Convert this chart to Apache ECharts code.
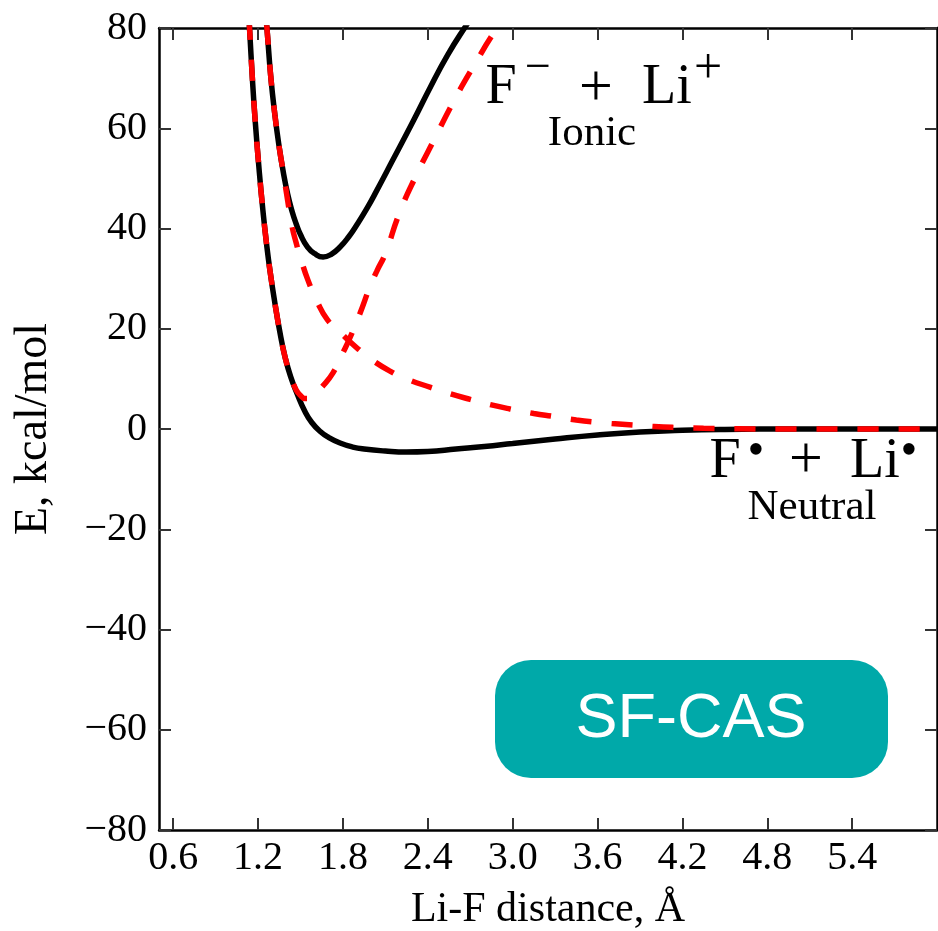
<!DOCTYPE html>
<html>
<head>
<meta charset="utf-8">
<script src="https://cdn.jsdelivr.net/npm/echarts@6/dist/echarts.min.js"></script>
<style>
html,body{margin:0;padding:0;background:#fff;}
#chart{width:938px;height:931px;}
</style>
</head>
<body>
<div id="chart"></div>
<script>
// ---- data (Li-F distance in Å, energy in kcal/mol) ----
const xTickValues = [0.6, 1.2, 1.8, 2.4, 3.0, 3.6, 4.2, 4.8, 5.4];

// black solid: adiabatic ground (neutral asymptote)
const groundX = [1.12, 1.14, 1.16, 1.18, 1.21, 1.235, 1.26, 1.285, 1.32, 1.36, 1.39, 1.43, 1.48, 1.53, 1.58, 1.64, 1.70, 1.78, 1.87, 1.95, 2.1, 2.25, 2.4, 2.6, 2.8, 3.0, 3.3, 3.6, 3.9, 4.2, 4.5, 5.0, 5.5, 6.0];
const groundE = [90, 80, 70, 61.5, 51, 43.5, 37, 31.5, 25, 18.5, 14.5, 10.5, 6.8, 3.6, 1.3, -0.5, -1.7, -2.8, -3.6, -4.0, -4.4, -4.6, -4.5, -4.0, -3.5, -2.9, -2.0, -1.2, -0.6, -0.25, -0.08, 0, 0, 0];

// black solid: adiabatic excited (ionic asymptote)
const excitedX = [1.235, 1.263, 1.29, 1.32, 1.35, 1.377, 1.41, 1.44, 1.47, 1.50, 1.55, 1.60, 1.66, 1.72, 1.78, 1.84, 1.90, 1.97, 2.04, 2.15, 2.30, 2.42, 2.54, 2.66, 2.78];
const excitedE = [89, 80, 70.3, 62.5, 56.2, 51.5, 46.8, 43.5, 40.9, 38.8, 36.3, 35, 34.3, 34.9, 36.3, 38.3, 40.8, 44, 47.6, 53.5, 61.6, 68.3, 74.6, 80, 85];

// red dashed: diabatic curve rising to the ionic limit
const diabAX = [1.12, 1.14, 1.16, 1.18, 1.21, 1.235, 1.26, 1.285, 1.32, 1.36, 1.39, 1.43, 1.47, 1.50, 1.53, 1.56, 1.60, 1.65, 1.73, 1.80, 1.85, 1.92, 1.99, 2.04, 2.10, 2.20, 2.32, 2.45, 2.58, 2.72, 2.89, 3.0];
const diabAE = [90, 80, 70, 61.5, 51, 43.5, 37, 31.5, 25, 18.5, 14.5, 10.5, 7.8, 6.7, 6.1, 6.1, 6.8, 8.3, 11.2, 15.2, 18.2, 23.0, 28.3, 31.5, 35, 43.1, 50.7, 58, 65.2, 72.2, 80, 84];

// red dashed: diabatic curve decaying to zero
const diabBX = [1.235, 1.263, 1.29, 1.32, 1.35, 1.377, 1.41, 1.44, 1.47, 1.50, 1.553, 1.62, 1.69, 1.77, 1.85, 1.92, 2.0, 2.13, 2.25, 2.42, 2.55, 2.70, 2.85, 2.98, 3.15, 3.29, 3.45, 3.57, 3.70, 3.85, 4.0, 4.16, 4.35, 4.6, 5.0, 5.5, 6.0];
const diabBE = [89, 80, 70.3, 62.5, 56.2, 51.5, 45.5, 40.5, 37.1, 34.2, 29.7, 25.3, 21.8, 19.6, 17.4, 15.7, 13.9, 11.6, 10.0, 8.3, 7.1, 5.9, 4.8, 4.0, 3.1, 2.5, 1.8, 1.4, 1.1, 0.8, 0.5, 0.3, 0.15, 0.05, 0, 0, 0];

const zip = (xs, ys) => xs.map((x, i) => [x, ys[i]]);

const serif = '"Liberation Serif", "Times New Roman", serif';
const sans = '"Liberation Sans", Arial, sans-serif';

function txt(text, x, y, size, align, family, color) {
  return {
    type: 'text', z: 110,
    style: {
      text: text, x: x, y: y,
      font: size + 'px ' + (family || serif),
      fill: color || '#000',
      align: align || 'left', verticalAlign: 'middle',
      textAlign: align || 'left', textVerticalAlign: 'middle'
    }
  };
}

const chart = echarts.init(document.getElementById('chart'), null, {renderer: 'canvas'});

const tickStyle = {show: true, inside: true, length: 12, lineStyle: {color: '#333', width: 2}};
const axisLineStyle = {show: true, onZero: false, lineStyle: {color: '#000', width: 2.5}};

const option = {
  backgroundColor: '#fff',
  animation: false,
  grid: {left: 159, right: 1, top: 28, bottom: 101, containLabel: false, outerBoundsMode: 'none'},
  xAxis: [
    {
      type: 'value', position: 'bottom', min: 0.5, max: 6.0,
      axisLine: axisLineStyle,
      axisTick: Object.assign({}, tickStyle, {customValues: xTickValues}),
      axisLabel: {customValues: xTickValues, formatter: v => v.toFixed(1), color: '#000', fontSize: 40, fontFamily: serif, margin: 8},
      splitLine: {show: false},
      name: 'Li-F distance, Å', nameLocation: 'middle', nameGap: 59,
      nameTextStyle: {color: '#000', fontSize: 42, fontFamily: serif}
    },
    {
      type: 'value', position: 'top', min: 0.5, max: 6.0,
      axisLine: axisLineStyle,
      axisTick: Object.assign({}, tickStyle, {customValues: xTickValues}),
      axisLabel: {show: false},
      splitLine: {show: false}
    }
  ],
  yAxis: [
    {
      type: 'value', position: 'left', min: -80, max: 80, interval: 20,
      axisLine: axisLineStyle,
      axisTick: tickStyle,
      axisLabel: {formatter: v => (v < 0 ? '\u2212' + Math.abs(v) : String(v)), color: '#000', fontSize: 40, fontFamily: serif, margin: 12},
      splitLine: {show: false},
      name: 'E, kcal/mol', nameLocation: 'middle', nameGap: 102,
      nameTextStyle: {color: '#000', fontSize: 46, fontFamily: serif}
    },
    {
      type: 'value', position: 'right', min: -80, max: 80, interval: 20,
      axisLine: axisLineStyle,
      axisTick: tickStyle,
      axisLabel: {show: false},
      splitLine: {show: false}
    }
  ],
  series: [
    {type: 'line', data: zip(groundX, groundE), smooth: 0.5, showSymbol: false, clip: true, lineStyle: {color: '#000', width: 5.5}, z: 2},
    {type: 'line', data: zip(excitedX, excitedE), smooth: 0.5, showSymbol: false, clip: true, lineStyle: {color: '#000', width: 5.5}, z: 2},
    {type: 'line', data: zip(diabAX, diabAE), smooth: 0.5, showSymbol: false, clip: true, lineStyle: {color: '#ff0000', width: 5.5, type: [21, 20]}, z: 3},
    {type: 'line', data: zip(diabBX, diabBE), smooth: 0.5, showSymbol: false, clip: true, lineStyle: {color: '#ff0000', width: 5.5, type: [21, 20]}, z: 3}
  ],
  graphic: [
    // Ionic label
    txt('F', 501, 88, 56, 'center'),
    txt('\u2212', 538, 69, 46, 'center'),
    txt('+', 596, 89, 60, 'center'),
    txt('Li', 667, 88, 56, 'center'),
    txt('+', 708, 70, 50, 'center'),
    txt('Ionic', 592, 134, 43, 'center'),
    // Neutral label
    txt('F', 725, 462, 56, 'center'),
    txt('\u2022', 756, 452, 48, 'center'),
    txt('+', 806, 461, 60, 'center'),
    txt('Li', 875, 462, 56, 'center'),
    txt('\u2022', 909, 452, 48, 'center'),
    txt('Neutral', 812, 508, 43, 'center'),
    // SF-CAS badge
    {type: 'rect', z: 100, shape: {x: 495, y: 660, width: 393, height: 118, r: 36}, style: {fill: '#00a9a9'}},
    txt('SF-CAS', 691, 720, 63, 'center', sans, '#fff')
  ]
};

chart.setOption(option);
</script>
</body>
</html>
